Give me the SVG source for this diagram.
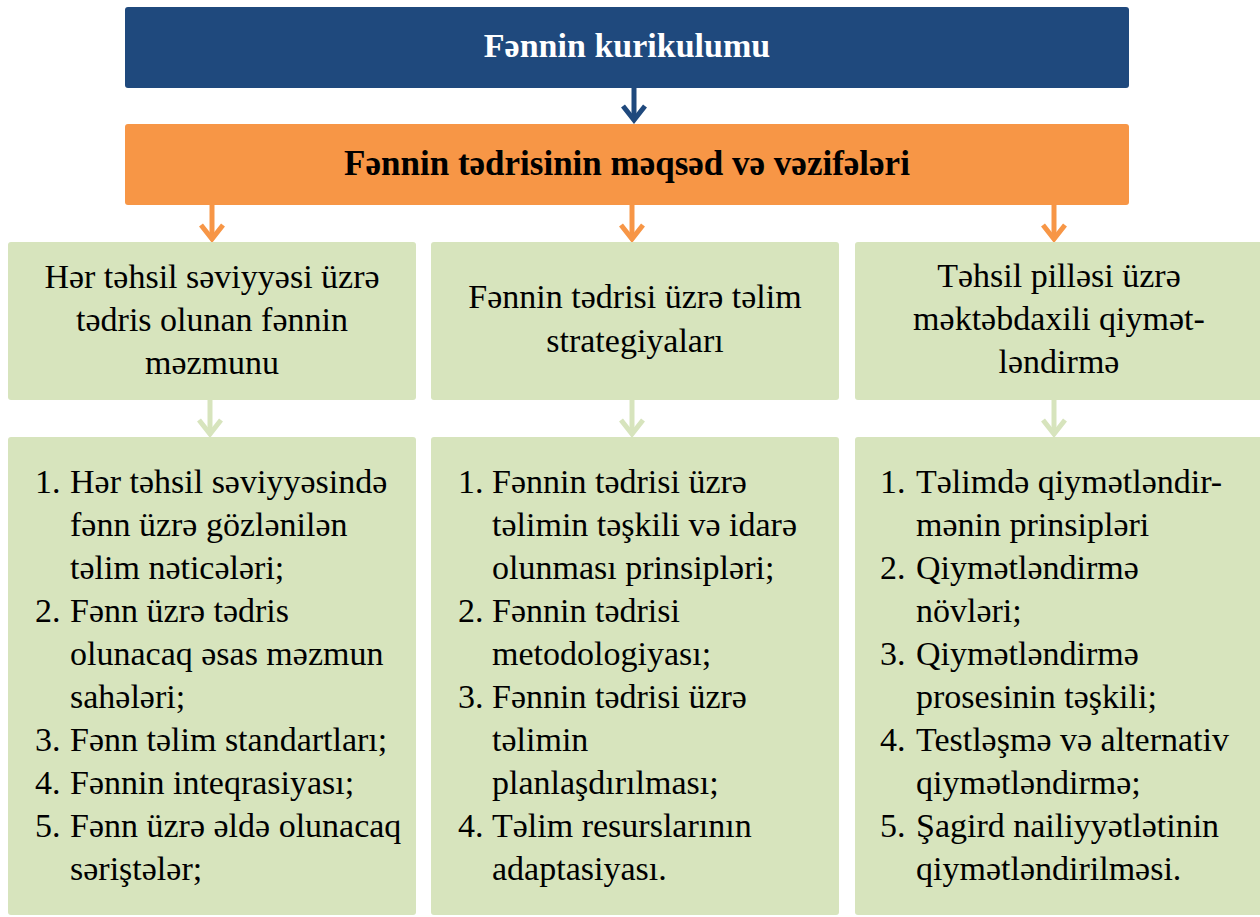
<svg xmlns="http://www.w3.org/2000/svg" width="1260" height="917" viewBox="0 0 1260 917">
<style>
.t{font-family:"Liberation Serif","DejaVu Serif",serif;font-size:34px;fill:#000}
.c{text-anchor:middle}
.h{font-family:"Liberation Serif","DejaVu Serif",serif;font-size:34px;font-weight:bold;text-anchor:middle}
.blue{fill:#1F497D}
.orange{fill:#F79646}
.green{fill:#D7E4BD}
</style>
<defs>
<marker id="mb" viewBox="-20 -14 24 28" refX="0" refY="0" markerWidth="24" markerHeight="28" markerUnits="userSpaceOnUse" orient="auto"><path d="M-14,-11 L0,0 L-14,11" fill="none" stroke="#1F497D" stroke-width="5"/></marker>
<marker id="mo" viewBox="-20 -14 24 28" refX="0" refY="0" markerWidth="24" markerHeight="28" markerUnits="userSpaceOnUse" orient="auto"><path d="M-14,-11 L0,0 L-14,11" fill="none" stroke="#F79646" stroke-width="5"/></marker>
<marker id="mg" viewBox="-20 -14 24 28" refX="0" refY="0" markerWidth="24" markerHeight="28" markerUnits="userSpaceOnUse" orient="auto"><path d="M-14,-11 L0,0 L-14,11" fill="none" stroke="#D7E4BD" stroke-width="5"/></marker>
</defs>
<g id="connectors">
<line x1="634" y1="88" x2="634" y2="120" stroke="#1F497D" stroke-width="5" marker-end="url(#mb)"/>
<line x1="212" y1="205" x2="212" y2="239" stroke="#F79646" stroke-width="5" marker-end="url(#mo)"/>
<line x1="632" y1="205" x2="632" y2="239" stroke="#F79646" stroke-width="5" marker-end="url(#mo)"/>
<line x1="1054" y1="205" x2="1054" y2="239" stroke="#F79646" stroke-width="5" marker-end="url(#mo)"/>
<line x1="210" y1="400" x2="210" y2="434" stroke="#D7E4BD" stroke-width="5" marker-end="url(#mg)"/>
<line x1="632" y1="400" x2="632" y2="434" stroke="#D7E4BD" stroke-width="5" marker-end="url(#mg)"/>
<line x1="1054" y1="400" x2="1054" y2="434" stroke="#D7E4BD" stroke-width="5" marker-end="url(#mg)"/>
</g>
<g id="curriculum">
<rect class="blue" x="125" y="7" width="1004" height="81" rx="3"/>
<text class="h" x="627" y="57" fill="#fff">Fənnin kurikulumu</text>
</g>
<g id="goals">
<rect class="orange" x="125" y="124" width="1004" height="81" rx="3"/>
<text class="h" x="627" y="175" fill="#000" style="font-size:35px">Fənnin tədrisinin məqsəd və vəzifələri</text>
</g>
<g id="content">
<rect class="green" x="8" y="242" width="408" height="158" rx="3"/>
<text class="t c" x="212" y="288">Hər təhsil səviyyəsi üzrə</text>
<text class="t c" x="212" y="331">tədris olunan fənnin</text>
<text class="t c" x="212" y="374">məzmunu</text>
</g>
<g id="strategies">
<rect class="green" x="431" y="242" width="408" height="158" rx="3"/>
<text class="t c" x="635" y="308">Fənnin tədrisi üzrə təlim</text>
<text class="t c" x="635" y="352">strategiyaları</text>
</g>
<g id="assessment">
<rect class="green" x="855" y="242" width="410" height="158" rx="3"/>
<text class="t c" x="1059" y="287">Təhsil pilləsi üzrə</text>
<text class="t c" x="1059" y="330">məktəbdaxili qiymət-</text>
<text class="t c" x="1059" y="373">ləndirmə</text>
</g>
<g id="content-list">
<rect class="green" x="8" y="437" width="408" height="478" rx="3"/>
<text class="t" x="35" y="493">1.</text><text class="t" x="70" y="493">Hər təhsil səviyyəsində</text>
<text class="t" x="70" y="536">fənn üzrə gözlənilən</text>
<text class="t" x="70" y="579">təlim nəticələri;</text>
<text class="t" x="35" y="622">2.</text><text class="t" x="70" y="622">Fənn üzrə tədris</text>
<text class="t" x="70" y="665">olunacaq əsas məzmun</text>
<text class="t" x="70" y="708">sahələri;</text>
<text class="t" x="35" y="751">3.</text><text class="t" x="70" y="751">Fənn təlim standartları;</text>
<text class="t" x="35" y="794">4.</text><text class="t" x="70" y="794">Fənnin inteqrasiyası;</text>
<text class="t" x="35" y="837">5.</text><text class="t" x="70" y="837">Fənn üzrə əldə olunacaq</text>
<text class="t" x="70" y="880">səriştələr;</text>
</g>
<g id="strategies-list">
<rect class="green" x="431" y="437" width="408" height="478" rx="3"/>
<text class="t" x="458" y="493">1.</text><text class="t" x="492" y="493">Fənnin tədrisi üzrə</text>
<text class="t" x="492" y="536">təlimin təşkili və idarə</text>
<text class="t" x="492" y="579">olunması prinsipləri;</text>
<text class="t" x="458" y="622">2.</text><text class="t" x="492" y="622">Fənnin tədrisi</text>
<text class="t" x="492" y="665">metodologiyası;</text>
<text class="t" x="458" y="708">3.</text><text class="t" x="492" y="708">Fənnin tədrisi üzrə</text>
<text class="t" x="492" y="751">təlimin</text>
<text class="t" x="492" y="794">planlaşdırılması;</text>
<text class="t" x="458" y="837">4.</text><text class="t" x="492" y="837">Təlim resurslarının</text>
<text class="t" x="492" y="880">adaptasiyası.</text>
</g>
<g id="assessment-list">
<rect class="green" x="855" y="437" width="410" height="478" rx="3"/>
<text class="t" x="880" y="493">1.</text><text class="t" x="916" y="493">Təlimdə qiymətləndir-</text>
<text class="t" x="916" y="536">mənin prinsipləri</text>
<text class="t" x="880" y="579">2.</text><text class="t" x="916" y="579">Qiymətləndirmə</text>
<text class="t" x="916" y="622">növləri;</text>
<text class="t" x="880" y="665">3.</text><text class="t" x="916" y="665">Qiymətləndirmə</text>
<text class="t" x="916" y="708">prosesinin təşkili;</text>
<text class="t" x="880" y="751">4.</text><text class="t" x="916" y="751">Testləşmə və alternativ</text>
<text class="t" x="916" y="794">qiymətləndirmə;</text>
<text class="t" x="880" y="837">5.</text><text class="t" x="916" y="837">Şagird nailiyyətlətinin</text>
<text class="t" x="916" y="880">qiymətləndirilməsi.</text>
</g>
</svg>
